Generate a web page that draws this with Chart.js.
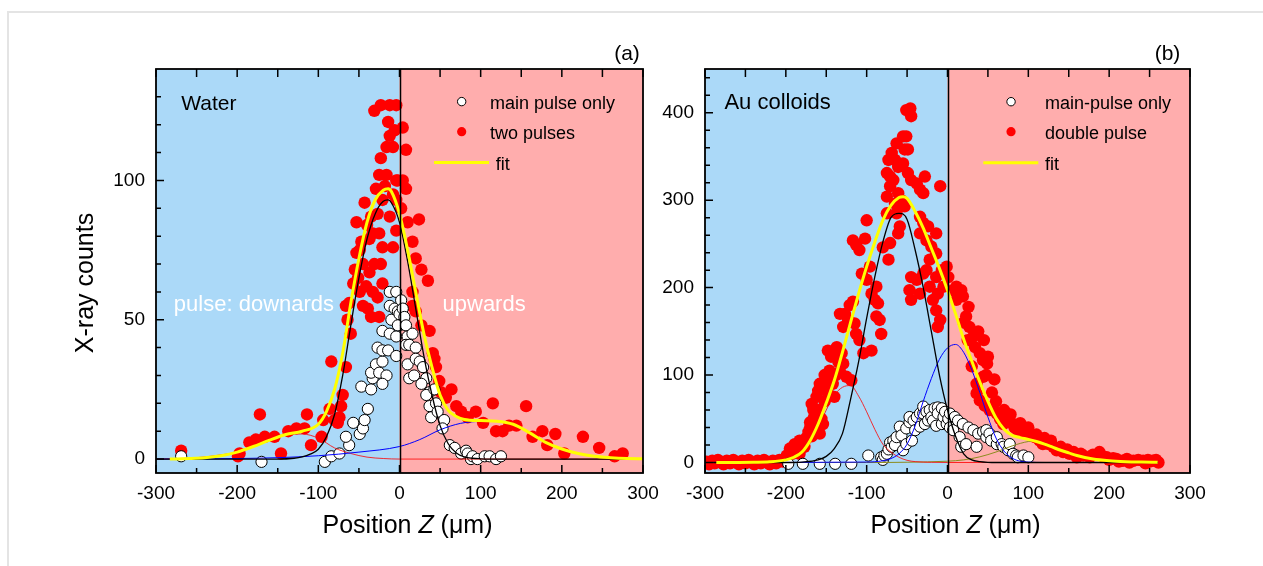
<!DOCTYPE html>
<html>
<head>
<meta charset="utf-8">
<title>X-ray counts vs position</title>
<script src="https://cdn.jsdelivr.net/npm/chart.js@4.4.1/dist/chart.umd.min.js"></script>
<style>
  html, body { margin: 0; padding: 0; background: #ffffff; }
  #page { position: relative; width: 1263px; height: 566px; overflow: hidden; background: #ffffff; }
  #frame { position: absolute; left: 7px; top: 11px; width: 1270px; height: 570px;
           border-left: 2px solid #e4e4e4; border-top: 2px solid #e4e4e4; }
  canvas { position: absolute; top: 0; }
  #waterCanvas { left: 0; }
  #goldCanvas { left: 640px; }
</style>
</head>
<body>
<div id="page">
  <div id="frame"></div>
  <canvas id="waterCanvas" width="670" height="566"></canvas>
  <canvas id="goldCanvas" width="623" height="566"></canvas>
</div>
<script>
// ---------- tick labels ----------
const zTicks = [-300, -200, -100, 0, 100, 200, 300];
const waterCountTicks = [0, 50, 100];
const goldCountTicks = [0, 100, 200, 300, 400];

// ---------- (a) water: measured points [z (µm), counts] ----------
const waterMainPulse = [
  [-269,1],[-170,-1],[-92,-1],[-84,1],[-74,2],[-62,5],[-66,8],[-57,13],[-49,9],[-45,11],
  [-43,14],[-39,18],[-47,26],[-35,25],[-33,29],[-35,31],[-29,34],[-21,35],[-25,31],[-16,30],
  [-21,27],[-27,40],[-21,39],[-14,39],[-4,37],[-21,46],[-12,45],[-10,50],[-12,55],[-6,54],
  [-12,60],[-4,60],[-2,53],[0,48],[-4,44],[-2,48],[0,52],[2,57],[4,54],[6,51],[8,48],[10,44],
  [16,45],[8,41],[12,41],[20,40],[10,34],[20,36],[25,35],[12,29],[18,30],[29,33],[33,29],
  [27,27],[37,24],[33,23],[43,25],[37,19],[45,20],[39,15],[47,17],[55,14],[53,11],[62,5],
  [68,4],[76,2],[82,3],[84,2],[88,0],[90,1],[96,0],[105,1],[111,1],[119,0],[125,1]
];
const waterTwoPulses = [
  [-269,3],[-199,1],[-197,2],[-185,6],[-177,7],[-172,16],[-166,8],[-154,8],[-146,2],[-137,10],
  [-127,11],[-117,11],[-114,16],[-109,5],[-96,8],[-94,14],[-86,18],[-84,35],[-80,14],[-76,13],
  [-74,15],[-72,19],[-70,23],[-66,33],[-64,50],[-60,45],[-62,56],[-66,55],[-57,63],[-55,68],
  [-53,85],[-53,74],[-51,65],[-49,75],[-49,60],[-47,78],[-45,70],[-45,55],[-43,92],[-41,62],
  [-40,84],[-39,54],[-37,79],[-37,67],[-35,87],[-35,51],[-33,81],[-33,60],[-31,70],[-31,125],
  [-29,97],[-27,88],[-27,58],[-25,51],[-25,102],[-25,81],[-23,108],[-23,127],[-23,70],[-21,93],
  [-21,76],[-21,63],[-18,98],[-16,102],[-16,112],[-14,121],[-12,116],[-12,127],[-12,87],[-8,112],
  [-8,95],[-8,76],[-6,118],[-4,127],[-4,100],[-4,93],[-4,82],[-2,100],[2,90],[4,119],[4,100],
  [8,111],[8,97],[10,85],[16,78],[16,60],[16,55],[20,72],[20,53],[24,86],[27,68],[27,48],
  [35,64],[37,46],[41,38],[43,36],[45,33],[49,28],[51,24],[57,22],[64,25],[70,19],[76,17],
  [84,15],[94,17],[103,13],[115,20],[119,10],[127,10],[135,12],[144,12],[156,19],[164,8],
  [176,10],[182,5],[192,9],[203,2],[226,8],[246,4],[265,1],[275,2]
];

// ---------- (a) water: fitted curve and its components ----------
const waterFitZ = [-283,-260,-240,-220,-200,-180,-160,-140,-120,-100,-90,-80,-70,-60,-50,-40,-30,-20,-14,-10,
                   0,10,20,30,40,50,60,70,80,100,120,140,160,180,200,220,240,260,280,300];
const waterFit = [0,0.2,0.5,1.2,2.5,4.5,6.8,8.8,10,12.5,17,25,38,56,72,85,93,96.5,97,96,
                  88,75,60,45,33,23,17.5,15.3,14.2,13.8,13.6,12.5,9.5,6,3.6,2,1,0.5,0.2,0.1];
const waterCoreZ = [-300,-150,-130,-120,-110,-100,-90,-80,-70,-60,-50,-40,-30,-20,-14,
                    -10,0,10,20,30,40,50,60,70,80,90,100,110,300];
const waterCore = [0,0,0.3,0.8,1.8,3.5,8,16,30,48,65,79,88,92.5,93,
                   92,85,71,54,37,23,12,5.5,2.2,0.8,0.3,0.1,0,0];
const waterUpZ = [-300,-250,-200,-150,-100,-50,0,25,50,75,100,120,140,160,180,200,220,240,260,280,300];
const waterUp = [0,0.05,0.2,0.5,1.2,2.5,4.5,7,10.5,12.8,13.5,13.5,12.5,9.5,6,3.6,2,1,0.5,0.2,0.1];
const waterDownZ = [-300,-250,-220,-200,-180,-160,-140,-120,-100,-80,-60,-40,-20,0,300];
const waterDown = [0,0.5,1.5,2.5,4.5,7,8.8,9,7.5,4,2,0.7,0.2,0,0];

// ---------- (b) Au colloids: measured points [z (µm), counts] ----------
const goldMainPulse = [
  [-197,-1.5],[-179,-1.5],[-158,-1.5],[-139,-1.5],[-119,-1.5],[-98,8],[-82,6],[-80,3],[-78,8],
  [-75,10],[-73,15],[-71,23],[-69,18],[-67,25],[-65,20],[-63,29],[-59,41],[-57,31],[-55,14],
  [-51,39],[-51,21],[-47,46],[-47,52],[-44,25],[-42,48],[-40,37],[-38,52],[-34,56],[-34,41],
  [-30,56],[-30,64],[-28,44],[-26,58],[-24,48],[-22,60],[-20,52],[-18,48],[-16,62],[-14,42],
  [-12,63],[-12,56],[-7,62],[-7,44],[-5,52],[-3,58],[-1,44],[1,50],[3,56],[3,40],[7,37],
  [9,52],[13,48],[15,29],[17,18],[19,44],[23,21],[26,40],[32,37],[36,18],[38,33],[44,35],
  [48,29],[48,37],[52,33],[54,25],[61,21],[61,29],[67,21],[69,18],[75,14],[77,21],[81,10],
  [85,8],[87,6],[94,8],[100,6]
];
const goldDoublePulse = [
  [-298,1],[-295,-2],[-291,2],[-288,-1],[-284,3],[-280,0],[-277,-2],[-273,2],[-269,-1],[-265,3],
  [-261,0],[-258,-2],[-254,2],[-250,-1],[-246,3],[-242,0],[-239,-2],[-235,2],[-231,-1],[-227,3],
  [-223,0],[-220,-2],[-216,2],[-212,-1],[-208,3],[-204,1],[-201,4],
  [-199,8],[-195,16],[-192,10],[-189,21],[-186,14],[-183,25],[-183,10],[-180,18],[-177,18],
  [-175,28],[-172,35],[-170,46],[-170,40],[-168,67],[-168,30],[-166,60],[-165,52],[-164,40],
  [-162,75],[-160,82],[-160,60],[-158,33],[-158,90],[-156,50],[-154,44],[-154,86],[-152,70],
  [-152,100],[-150,94],[-148,128],[-148,80],[-146,105],[-144,121],[-142,125],[-142,90],[-140,75],
  [-138,100],[-137,132],[-135,115],[-133,104],[-133,170],[-131,125],[-129,113],[-129,155],
  [-127,170],[-125,98],[-123,163],[-121,180],[-119,94],[-117,184],[-117,254],[-115,159],
  [-113,147],[-113,249],[-109,140],[-109,243],[-106,216],[-104,125],[-102,256],[-100,277],
  [-100,209],[-96,224],[-94,193],[-94,128],[-90,186],[-88,201],[-88,167],[-86,182],[-84,163],
  [-82,147],[-80,246],[-75,331],[-75,304],[-75,285],[-73,346],[-73,232],[-71,327],[-71,316],
  [-71,251],[-69,354],[-67,323],[-65,346],[-65,296],[-63,365],[-63,285],[-61,338],[-61,308],
  [-61,262],[-59,270],[-57,300],[-55,373],[-55,342],[-53,358],[-53,293],[-51,373],[-51,403],
  [-49,358],[-49,331],[-47,197],[-46,405],[-45,396],[-45,323],[-45,212],[-45,186],[-38,319],
  [-38,209],[-34,312],[-34,281],[-34,262],[-34,193],[-30,308],[-30,274],[-30,216],[-28,327],
  [-26,254],[-26,220],[-24,270],[-22,232],[-22,201],[-20,247],[-18,186],[-14,262],[-14,239],
  [-14,212],[-14,174],[-12,193],[-12,155],[-9,316],[-9,163],[-7,220],[-5,201],[-1,224],
  [1,212],[7,197],[11,201],[11,186],[17,197],[19,190],[20,160],[23,167],[25,140],[26,178],
  [27,155],[30,110],[32,144],[34,132],[36,90],[36,79],[38,150],[40,125],[40,71],[44,117],
  [44,98],[45,140],[46,65],[48,100],[49,113],[50,121],[52,60],[55,80],[56,63],[58,95],[60,70],
  [61,56],[65,50],[69,44],[70,60],[75,48],[78,55],[81,44],[83,40],[87,37],[90,45],[94,35],
  [98,37],[100,40],[102,33],[108,29],[110,32],[114,25],[118,21],[120,28],[125,21],[128,25],
  [131,18],[135,14],[140,18],[143,12],[148,15],[151,10],[156,12],[160,6],[165,10],[168,8],
  [176,6],[180,9],[188,12],[192,7],[197,6],[200,3],[205,5],[209,4],[212,1],[217,2],[222,4],
  [225,0],[230,2],[236,3],[242,2],[245,-1],[248,3],[250,1],[254,2],[258,3],[261,0]
];

// ---------- (b) Au colloids: fitted curve and its components ----------
const goldFitZ = [-286,-260,-240,-220,-200,-190,-180,-170,-160,-150,-140,-130,-120,-110,-100,
                  -90,-80,-70,-60,-55,-50,-40,-30,-20,-10,0,10,20,30,40,50,60,70,80,90,
                  100,110,120,130,140,150,160,180,200,220,240,260];
const goldFit = [0,0.1,0.3,0.8,3,6,12,25,44,68,94,126,160,193,224,
                 252,277,294,303,304,302,287,268,245,222,197,170,141,116,92,70,51,38,31,28.5,
                 26.5,24,21,17.5,14,11,8,4,2,1,0.5,0.2];
const goldCoreZ = [-290,-200,-180,-160,-150,-140,-130,-120,-110,-100,-90,-80,-70,-60,-50,
                   -40,-30,-20,-10,0,10,20,30,40,50,60,260];
const goldCore = [0,0,0.5,3,7,16,33,72,115,165,212,252,280,285,278,
                  243,200,150,100,60,30,10,3,1,0.2,0,0];
const goldUpZ = [-290,-100,-80,-70,-60,-50,-40,-30,-20,-10,0,10,20,30,40,50,60,70,80,90,100,120,260];
const goldUp = [0,0.5,2,4.5,10,21,42,70,96,118,131,135,126,106,80,52,28,13,5,1.5,0.5,0,0];
const goldDownZ = [-290,-240,-220,-200,-180,-170,-160,-150,-140,-130,-120,-110,-100,-90,-80,-70,-60,-50,-40,-20,0,260];
const goldDown = [0,0.2,0.8,3,11,22,40,60,77,86,88,76,58,38,21,12,6,2.5,1,0.2,0,0];
const goldTailZ = [-290,-100,-50,0,20,40,60,80,100,110,120,140,160,180,200,220,240,260];
const goldTail = [0,0,0.3,1.5,3,6.5,12,19,24,24.5,22,15,8.5,4,1.8,0.7,0.2,0];

// ---------- styling ----------
const FONT = '"Liberation Sans", Arial, Helvetica, sans-serif';
const SKY = '#ABD9F8';
const ROSE = '#FFADAD';
const RED = '#FF0000';
const FIT_YELLOW = '#FFFF00';

const pairsToXY = pts => pts.map(([x, y]) => ({ x, y }));
const zipXY = (zs, vs) => zs.map((z, i) => ({ x: z, y: vs[i] }));

function curve(zs, vs, color, width, order) {
  return {
    data: zipXY(zs, vs), showLine: true, borderColor: color, borderWidth: width,
    pointRadius: 0, fill: false, cubicInterpolationMode: 'monotone', order
  };
}
function markers(pts, fill, stroke, radius, order) {
  return {
    data: pairsToXY(pts), showLine: false, pointRadius: radius, pointBackgroundColor: fill,
    pointBorderColor: stroke, pointBorderWidth: stroke ? 1 : 0, order
  };
}

function setFont(ctx, size, style) {
  ctx.font = (style || '') + ' ' + size + 'px ' + FONT;
}

// Background halves, zero line, frame, inward ticks and in-plot text
const panelDecor = {
  id: 'panelDecor',
  beforeDatasetsDraw(chart, args, o) {
    const { ctx, chartArea: a, scales: { x } } = chart;
    const x0 = x.getPixelForValue(0);
    ctx.save();
    ctx.fillStyle = SKY;
    ctx.fillRect(a.left, a.top, x0 - a.left, a.bottom - a.top);
    ctx.fillStyle = ROSE;
    ctx.fillRect(x0, a.top, a.right - x0, a.bottom - a.top);
    ctx.restore();
  },
  afterDatasetsDraw(chart, args, o) {
    const { ctx, chartArea: a, scales: { x, y } } = chart;
    ctx.save();
    ctx.strokeStyle = '#000';
    // divider at z = 0
    const x0 = Math.round(x.getPixelForValue(0)) + 0.5;
    ctx.lineWidth = 1.5;
    ctx.beginPath(); ctx.moveTo(x0, a.top); ctx.lineTo(x0, a.bottom); ctx.stroke();
    // ticks
    ctx.lineWidth = 1.5;
    ctx.beginPath();
    for (let v = -300; v <= 300; v += 50) {
      const px = x.getPixelForValue(v);
      const len = v % 100 === 0 ? 8 : 5;
      ctx.moveTo(px, a.bottom); ctx.lineTo(px, a.bottom - len);
      ctx.moveTo(px, a.top); ctx.lineTo(px, a.top + 8);
    }
    for (let v = 0; v < y.max; v += o.minorStep) {
      const py = y.getPixelForValue(v);
      const len = v % o.majorStep === 0 ? 8 : 5;
      ctx.moveTo(a.left, py); ctx.lineTo(a.left + len, py);
    }
    ctx.stroke();
    // frame
    ctx.lineWidth = 1.8;
    ctx.strokeRect(a.left, a.top, a.right - a.left, a.bottom - a.top);
    ctx.restore();
  },
  afterDraw(chart, args, o) {
    const { ctx, chartArea: a, scales: { x, y } } = chart;
    const px = v => x.getPixelForValue(v);
    const py = v => y.getPixelForValue(v);
    ctx.save();
    ctx.textBaseline = 'middle';
    ctx.textAlign = 'left';
    // in-plot labels
    for (const t of o.notes) {
      setFont(ctx, t.size);
      ctx.fillStyle = t.color;
      ctx.fillText(t.text, px(t.z), py(t.c));
    }
    // legend
    const L = o.legend;
    ctx.fillStyle = '#fff'; ctx.strokeStyle = '#000'; ctx.lineWidth = 1;
    ctx.beginPath(); ctx.arc(px(L.markZ), py(L.rows[0]), 4.2, 0, Math.PI * 2); ctx.fill(); ctx.stroke();
    ctx.fillStyle = RED;
    ctx.beginPath(); ctx.arc(px(L.markZ), py(L.rows[1]), 4.6, 0, Math.PI * 2); ctx.fill();
    ctx.strokeStyle = FIT_YELLOW; ctx.lineWidth = 3;
    ctx.beginPath(); ctx.moveTo(px(L.lineZ[0]), py(L.rows[2])); ctx.lineTo(px(L.lineZ[1]), py(L.rows[2])); ctx.stroke();
    setFont(ctx, 18);
    ctx.fillStyle = '#000';
    ctx.fillText(L.labels[0], px(L.textZ), py(L.rows[0]) + 2);
    ctx.fillText(L.labels[1], px(L.textZ), py(L.rows[1]) + 2);
    ctx.fillText(L.labels[2], px(L.fitTextZ), py(L.rows[2]) + 2);
    // panel tag
    setFont(ctx, 21);
    ctx.textAlign = 'center';
    ctx.fillText(o.tag, o.tagX, a.top - 15);
    // horizontal axis title with italic Z
    const parts = [['Position ', ''], ['Z', 'italic'], [' (\u03BCm)', '']];
    let total = 0;
    for (const [s, st] of parts) { setFont(ctx, 25, st); total += ctx.measureText(s).width; }
    let cx = px(0) + 8 - total / 2;
    ctx.textAlign = 'left';
    for (const [s, st] of parts) {
      setFont(ctx, 25, st);
      ctx.fillText(s, cx, a.bottom + 53);
      cx += ctx.measureText(s).width;
    }
    // vertical axis title
    if (o.yTitle) {
      ctx.translate(o.yTitle.x, o.yTitle.y);
      ctx.rotate(-Math.PI / 2);
      ctx.textAlign = 'center';
      setFont(ctx, 25);
      ctx.fillText(o.yTitle.text, 0, 0);
    }
    ctx.restore();
  }
};

function buildPanel(canvasId, p) {
  return new Chart(document.getElementById(canvasId), {
    type: 'scatter',
    data: {
      datasets: [
        curve(p.fitZ, p.fit, FIT_YELLOW, 3, 0),
        ...p.parts.map(c => curve(c.z, c.v, c.color, c.width, 1)),
        markers(p.single, '#FFFFFF', '#000000', 5.6, 2),
        markers(p.double, RED, null, 6.2, 3)
      ]
    },
    options: {
      responsive: false,
      animation: false,
      events: [],
      layout: { padding: p.padding },
      scales: {
        x: {
          type: 'linear', min: -300, max: 300,
          afterFit(s) { s.height = 40; },
          afterBuildTicks(s) { s.ticks = zTicks.map(v => ({ value: v })); },
          grid: { display: false, drawTicks: false },
          border: { display: false },
          ticks: { color: '#000', font: { family: FONT, size: 19 }, padding: 9,
                   maxRotation: 0, autoSkip: false, callback: v => String(v) }
        },
        y: {
          type: 'linear', min: p.yMin, max: p.yMax,
          afterFit(s) { s.width = p.yWidth; },
          afterBuildTicks(s) { s.ticks = p.yTicks.map(v => ({ value: v })); },
          grid: { display: false, drawTicks: false },
          border: { display: false },
          ticks: { color: '#000', font: { family: FONT, size: 19 }, padding: 11,
                   autoSkip: false, callback: v => String(v) }
        }
      },
      plugins: {
        legend: { display: false },
        tooltip: { enabled: false },
        panelDecor: p.decor
      }
    },
    plugins: [panelDecor]
  });
}

buildPanel('waterCanvas', {
  padding: { left: 20, right: 27, top: 69, bottom: 53 },
  yWidth: 136, yMin: -5, yMax: 140, yTicks: waterCountTicks,
  fitZ: waterFitZ, fit: waterFit,
  parts: [
    { z: waterCoreZ, v: waterCore, color: '#000000', width: 1.3 },
    { z: waterUpZ, v: waterUp, color: '#0000FF', width: 1 },
    { z: waterDownZ, v: waterDown, color: '#FF0000', width: 0.8 }
  ],
  single: waterMainPulse, double: waterTwoPulses,
  decor: {
    minorStep: 10, majorStep: 50,
    notes: [
      { text: 'Water', z: -269, c: 127.5, size: 21, color: '#000' },
      { text: 'pulse: downards', z: -278, c: 55.3, size: 22, color: '#FFFFFF' },
      { text: 'upwards', z: 53, c: 55.3, size: 22, color: '#FFFFFF' }
    ],
    legend: { markZ: 76.6, textZ: 111.5, lineZ: [42.5, 110.3], fitTextZ: 118.5,
              rows: [128.3, 117.5, 106.4],
              labels: ['main pulse only', 'two pulses', 'fit'] },
    tag: '(a)', tagX: 627,
    yTitle: { text: 'X-ray counts', x: 86, y: 283 }
  }
});

buildPanel('goldCanvas', {
  padding: { left: 5, right: 73, top: 69, bottom: 53 },
  yWidth: 60, yMin: -12, yMax: 450, yTicks: goldCountTicks,
  fitZ: goldFitZ, fit: goldFit,
  parts: [
    { z: goldCoreZ, v: goldCore, color: '#000000', width: 1.3 },
    { z: goldUpZ, v: goldUp, color: '#0000FF', width: 1 },
    { z: goldDownZ, v: goldDown, color: '#FF0000', width: 0.8 },
    { z: goldTailZ, v: goldTail, color: '#8C8C1E', width: 1 }
  ],
  single: goldMainPulse, double: goldDoublePulse,
  decor: {
    minorStep: 20, majorStep: 100,
    notes: [
      { text: 'Au colloids', z: -276, c: 411.5, size: 22, color: '#000' }
    ],
    legend: { markZ: 78.6, textZ: 120.6, lineZ: [44.3, 112.3], fitTextZ: 120.6,
              rows: [412.6, 378.3, 342.8],
              labels: ['main-pulse only', 'double pulse', 'fit'] },
    tag: '(b)', tagX: 527.5,
    yTitle: null
  }
});
</script>
</body>
</html>
